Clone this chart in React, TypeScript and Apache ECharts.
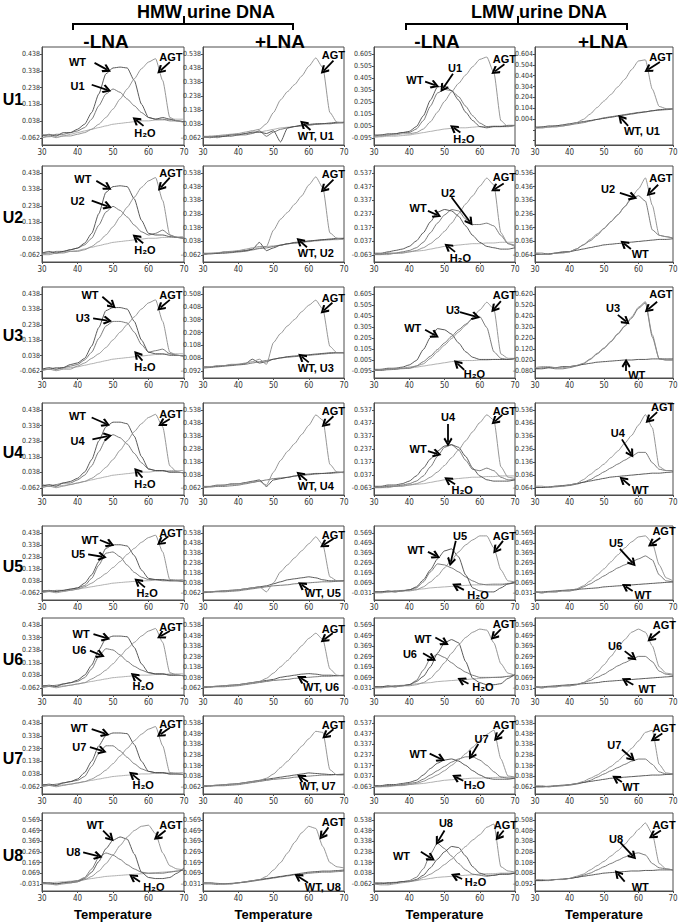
import React, { useEffect, useRef } from 'react';
import * as echarts from 'echarts';

// ---------------- shared axis values ----------------
const T = [30, 32, 34, 36, 38, 40, 42, 44, 46, 48, 50, 52, 54, 56, 58, 60, 62, 64, 66, 68, 70];
const ROW_NAMES = ['U1', 'U2', 'U3', 'U4', 'U5', 'U6', 'U7', 'U8'];
const COL_TITLES = ['-LNA', '+LNA', '-LNA', '+LNA'];
const GROUP_TITLES = ['HMW urine DNA', 'LMW urine DNA'];
const X_NAME = 'Temperature';

// y tick labels: lowest and highest label of every panel (row by row)
const Y_BASE = [
  [-0.062, -0.062, -0.095, 0.004],
  [-0.062, -0.062, -0.063, -0.064],
  [-0.062, -0.092, -0.095, -0.080],
  [-0.062, -0.062, -0.063, -0.064],
  [-0.062, -0.062, -0.031, -0.031],
  [-0.062, -0.062, -0.031, -0.031],
  [-0.062, -0.062, -0.063, -0.062],
  [-0.031, -0.031, -0.062, -0.092],
];
const Y_TOP = [
  [0.438, 0.538, 0.605, 0.604],
  [0.438, 0.538, 0.537, 0.536],
  [0.438, 0.508, 0.605, 0.620],
  [0.438, 0.538, 0.537, 0.536],
  [0.438, 0.538, 0.569, 0.569],
  [0.438, 0.538, 0.569, 0.569],
  [0.438, 0.538, 0.537, 0.538],
  [0.569, 0.569, 0.538, 0.508],
];

// ---------------- curves (values at T) ----------------
// Row U1
const r1c1_WT = [-0.05,-0.04,-0.05,-0.03,-0.03,-0.01,0.02,0.09,0.2,0.32,0.355,0.36,0.355,0.28,0.14,0.06,0.05,0.06,0.05,0.04,0.035];
const r1c1_U = [-0.04,-0.05,-0.04,-0.04,-0.03,-0.02,0.0,0.05,0.13,0.2,0.23,0.21,0.17,0.13,0.09,0.06,0.05,0.05,0.04,0.04,0.035];
const r1c1_AGT = [-0.06,-0.05,-0.06,-0.05,-0.05,-0.04,-0.03,-0.01,0.02,0.06,0.11,0.17,0.23,0.29,0.35,0.39,0.41,0.28,0.06,0.04,0.03];
const r1c1_H2O = [-0.06,-0.055,-0.05,-0.05,-0.04,-0.03,-0.02,-0.01,0.0,0.01,0.02,0.025,0.03,0.035,0.04,0.04,0.045,0.045,0.05,0.05,0.05];
const r1c2_AGT = [-0.05,-0.05,-0.045,-0.04,-0.035,-0.03,-0.02,-0.01,0.0,0.04,0.12,0.21,0.27,0.32,0.38,0.45,0.51,0.44,0.12,0.05,0.045];
const r1c2_WT = [-0.05,-0.06,-0.05,-0.05,-0.04,-0.04,-0.03,-0.02,-0.02,-0.03,-0.01,-0.09,0.01,0.02,0.03,0.035,0.04,0.04,0.045,0.05,0.05];
const r1c2_U = [-0.06,-0.05,-0.06,-0.05,-0.05,-0.04,-0.04,-0.03,-0.01,-0.05,-0.02,0.0,0.01,0.02,0.025,0.03,0.035,0.04,0.04,0.045,0.05];
const r1c2_H2O = [-0.055,-0.05,-0.05,-0.045,-0.04,-0.035,-0.03,-0.025,-0.02,-0.01,0.0,0.01,0.015,0.02,0.025,0.03,0.035,0.04,0.04,0.045,0.045];
const r1c3_WT = [-0.07,-0.07,-0.06,-0.06,-0.05,-0.04,0.0,0.09,0.22,0.33,0.34,0.3,0.22,0.12,0.05,0.0,-0.01,0.0,0.0,0.0,0.01];
const r1c3_U = [-0.08,-0.07,-0.07,-0.06,-0.05,-0.05,-0.02,0.05,0.17,0.28,0.31,0.3,0.25,0.17,0.09,0.03,0.0,0.0,0.0,0.01,0.01];
const r1c3_AGT = [-0.08,-0.08,-0.07,-0.07,-0.06,-0.06,-0.05,-0.02,0.04,0.12,0.21,0.29,0.36,0.43,0.5,0.56,0.58,0.45,0.05,0.0,0.01];
const r1c3_H2O = [-0.09,-0.085,-0.08,-0.08,-0.075,-0.07,-0.06,-0.05,-0.04,-0.03,-0.02,-0.015,-0.01,-0.01,-0.005,0.0,0.0,0.005,0.005,0.01,0.01];
const r1c4_AGT = [-0.08,-0.08,-0.07,-0.07,-0.06,-0.05,-0.03,0.0,0.05,0.11,0.17,0.23,0.3,0.37,0.46,0.54,0.55,0.28,0.12,0.1,0.1];
const r1c4_WT = [-0.07,-0.07,-0.06,-0.06,-0.05,-0.04,-0.03,-0.02,-0.01,0.0,0.01,0.02,0.03,0.04,0.05,0.06,0.07,0.08,0.09,0.095,0.1];
const r1c4_U = [-0.08,-0.07,-0.07,-0.06,-0.06,-0.05,-0.04,-0.03,-0.015,0.0,0.015,0.025,0.035,0.045,0.055,0.065,0.07,0.08,0.085,0.09,0.095];
// Row U2
const r2c1_WT = [-0.05,-0.04,-0.05,-0.04,-0.03,-0.02,0.01,0.07,0.19,0.32,0.355,0.36,0.355,0.28,0.15,0.07,0.06,0.06,0.05,0.045,0.04];
const r2c1_U = [-0.05,-0.05,-0.04,-0.04,-0.03,-0.02,0.0,0.04,0.12,0.2,0.235,0.21,0.17,0.12,0.08,0.06,0.07,0.09,0.06,0.045,0.04];
const r2c1_AGT = [-0.06,-0.06,-0.05,-0.05,-0.04,-0.04,-0.03,-0.01,0.02,0.06,0.11,0.17,0.23,0.29,0.35,0.39,0.41,0.27,0.06,0.045,0.04];
const r2c1_H2O = [-0.055,-0.05,-0.05,-0.045,-0.04,-0.035,-0.025,-0.015,-0.005,0.005,0.015,0.02,0.025,0.03,0.035,0.04,0.04,0.045,0.045,0.05,0.05];
const r2c2_AGT = [-0.05,-0.05,-0.045,-0.04,-0.035,-0.03,-0.02,-0.01,0.0,0.0,0.12,0.2,0.25,0.31,0.37,0.45,0.51,0.43,0.1,0.06,0.05];
const r2c2_WT = [-0.05,-0.05,-0.05,-0.04,-0.04,-0.035,-0.03,-0.02,0.03,-0.03,-0.01,0.01,0.02,0.03,0.035,0.04,0.045,0.05,0.055,0.06,0.06];
const r2c2_U = [-0.06,-0.055,-0.05,-0.05,-0.045,-0.04,-0.035,-0.025,-0.015,-0.01,0.0,0.01,0.02,0.025,0.03,0.04,0.045,0.05,0.05,0.055,0.06];
const r2c2_H2O = [-0.055,-0.05,-0.05,-0.045,-0.04,-0.035,-0.03,-0.02,-0.01,0.0,0.005,0.01,0.02,0.025,0.03,0.035,0.04,0.045,0.05,0.05,0.055];
const r2c3_WT = [-0.05,-0.05,-0.04,-0.03,-0.02,0.0,0.04,0.1,0.18,0.25,0.27,0.26,0.22,0.15,0.08,0.03,0.0,-0.01,-0.02,-0.02,-0.01];
const r2c3_U = [-0.06,-0.06,-0.05,-0.05,-0.04,-0.03,-0.01,0.03,0.1,0.17,0.23,0.27,0.26,0.2,0.16,0.16,0.17,0.15,0.08,0.02,0.0];
const r2c3_AGT = [-0.06,-0.06,-0.06,-0.05,-0.05,-0.04,-0.03,-0.01,0.02,0.06,0.11,0.17,0.24,0.31,0.37,0.44,0.5,0.45,0.1,0.02,0.01];
const r2c3_H2O = [-0.06,-0.055,-0.05,-0.05,-0.045,-0.04,-0.035,-0.03,-0.02,-0.01,0.0,0.005,0.01,0.015,0.02,0.02,0.025,0.025,0.03,0.03,0.03];
const r2c4_AGT = [-0.05,-0.06,-0.06,-0.05,-0.05,-0.04,-0.02,0.01,0.05,0.09,0.13,0.18,0.23,0.29,0.36,0.42,0.5,0.3,0.08,0.07,0.06];
const r2c4_U = [-0.05,-0.05,-0.06,-0.05,-0.04,-0.04,-0.02,0.01,0.04,0.08,0.13,0.18,0.23,0.29,0.35,0.37,0.33,0.12,0.08,0.07,0.06];
const r2c4_WT = [-0.06,-0.06,-0.055,-0.05,-0.045,-0.04,-0.03,-0.02,-0.01,0.0,0.01,0.015,0.02,0.025,0.03,0.035,0.04,0.045,0.05,0.05,0.055];
// Row U3
const r3c1_WT = [-0.05,-0.04,-0.05,-0.04,-0.02,-0.01,0.02,0.1,0.22,0.33,0.35,0.35,0.34,0.26,0.14,0.06,0.05,0.05,0.04,0.04,0.035];
const r3c1_U = [-0.05,-0.05,-0.04,-0.04,-0.03,-0.02,0.01,0.06,0.15,0.23,0.26,0.26,0.25,0.19,0.11,0.06,0.07,0.08,0.05,0.04,0.035];
const r3c1_AGT = [-0.06,-0.05,-0.06,-0.05,-0.05,-0.03,-0.01,0.02,0.05,0.09,0.14,0.19,0.24,0.29,0.34,0.38,0.4,0.26,0.06,0.04,0.035];
const r3c1_H2O = [-0.055,-0.05,-0.05,-0.045,-0.04,-0.035,-0.025,-0.015,-0.005,0.005,0.015,0.02,0.025,0.03,0.035,0.04,0.045,0.045,0.05,0.05,0.05];
const r3c2_AGT = [-0.06,-0.06,-0.05,-0.05,-0.04,-0.04,-0.03,-0.02,0.0,-0.04,0.13,0.2,0.26,0.31,0.37,0.42,0.46,0.39,0.1,0.05,0.05];
const r3c2_WT = [-0.06,-0.06,-0.055,-0.05,-0.045,-0.04,-0.035,0.0,-0.03,-0.02,0.0,0.01,0.02,0.025,0.03,0.035,0.04,0.045,0.05,0.05,0.05];
const r3c2_U = [-0.07,-0.065,-0.06,-0.055,-0.05,-0.045,-0.04,-0.03,-0.02,-0.01,0.0,0.01,0.015,0.02,0.025,0.03,0.035,0.04,0.045,0.05,0.05];
const r3c3_WT = [-0.08,-0.08,-0.07,-0.07,-0.06,-0.04,0.0,0.1,0.21,0.29,0.28,0.24,0.16,0.08,0.03,0.01,0.01,0.01,0.01,0.01,0.02];
const r3c3_U = [-0.09,-0.09,-0.08,-0.08,-0.07,-0.07,-0.05,-0.01,0.04,0.1,0.16,0.22,0.28,0.33,0.38,0.4,0.3,0.08,0.02,0.01,0.02];
const r3c3_AGT = [-0.09,-0.08,-0.08,-0.07,-0.07,-0.06,-0.05,-0.03,0.02,0.08,0.14,0.2,0.26,0.32,0.39,0.46,0.53,0.47,0.06,0.02,0.02];
const r3c3_H2O = [-0.09,-0.09,-0.085,-0.08,-0.075,-0.07,-0.06,-0.05,-0.04,-0.03,-0.02,-0.01,0.0,0.0,0.0,0.005,0.005,0.01,0.01,0.01,0.01];
const r3c4_AGT = [-0.05,-0.04,-0.04,-0.05,-0.05,-0.04,-0.03,-0.01,0.03,0.08,0.13,0.19,0.26,0.33,0.41,0.5,0.55,0.25,0.03,0.02,0.02];
const r3c4_U = [-0.06,-0.05,-0.05,-0.06,-0.06,-0.05,-0.035,-0.015,0.025,0.075,0.125,0.185,0.255,0.325,0.4,0.49,0.54,0.23,0.03,0.02,0.02];
const r3c4_WT = [-0.06,-0.06,-0.05,-0.05,-0.04,-0.04,-0.03,-0.02,-0.01,0.0,0.005,0.01,0.015,0.02,0.02,0.025,0.025,0.03,0.03,0.03,0.03];
// Row U4
const r4c1_WT = [-0.05,-0.04,-0.05,-0.03,-0.02,0.0,0.04,0.12,0.24,0.33,0.36,0.36,0.35,0.27,0.14,0.06,0.05,0.05,0.04,0.04,0.035];
const r4c1_U = [-0.04,-0.05,-0.04,-0.03,-0.03,-0.01,0.02,0.08,0.17,0.25,0.28,0.26,0.22,0.16,0.1,0.06,0.05,0.05,0.04,0.04,0.035];
const r4c1_AGT = [-0.06,-0.05,-0.06,-0.05,-0.04,-0.03,-0.02,0.0,0.03,0.07,0.12,0.18,0.24,0.3,0.35,0.39,0.41,0.33,0.08,0.04,0.035];
const r4c1_H2O = [-0.055,-0.05,-0.05,-0.045,-0.04,-0.03,-0.02,-0.01,0.0,0.01,0.02,0.025,0.03,0.035,0.04,0.04,0.045,0.045,0.05,0.05,0.05];
const r4c2_AGT = [-0.05,-0.05,-0.045,-0.04,-0.035,-0.03,-0.025,-0.015,-0.01,-0.04,0.06,0.15,0.22,0.28,0.35,0.42,0.5,0.46,0.12,0.06,0.055];
const r4c2_WT = [-0.05,-0.05,-0.04,-0.04,-0.03,-0.03,-0.02,-0.01,0.0,-0.05,0.0,0.01,0.02,0.03,0.04,0.045,0.05,0.05,0.055,0.06,0.06];
const r4c2_U = [-0.06,-0.055,-0.05,-0.05,-0.045,-0.04,-0.03,-0.02,-0.01,0.0,0.01,0.015,0.02,0.03,0.035,0.04,0.045,0.05,0.05,0.055,0.06];
const r4c3_WT = [-0.05,-0.05,-0.04,-0.04,-0.03,-0.01,0.03,0.09,0.16,0.22,0.26,0.27,0.25,0.18,0.09,0.03,0.0,-0.01,-0.01,-0.01,0.0];
const r4c3_U = [-0.06,-0.06,-0.05,-0.05,-0.04,-0.03,-0.01,0.03,0.1,0.18,0.25,0.27,0.23,0.15,0.08,0.07,0.09,0.07,0.02,0.0,0.0];
const r4c3_AGT = [-0.06,-0.06,-0.06,-0.05,-0.05,-0.04,-0.03,-0.01,0.02,0.06,0.11,0.17,0.23,0.3,0.37,0.44,0.5,0.46,0.1,0.02,0.01];
const r4c3_H2O = [-0.06,-0.055,-0.05,-0.05,-0.045,-0.04,-0.035,-0.03,-0.02,-0.01,0.0,0.005,0.01,0.015,0.02,0.02,0.025,0.025,0.03,0.03,0.03];
const r4c4_AGT = [-0.05,-0.05,-0.06,-0.05,-0.05,-0.04,-0.03,0.0,0.04,0.08,0.12,0.17,0.22,0.28,0.34,0.42,0.5,0.4,0.1,0.07,0.07];
const r4c4_U = [-0.06,-0.06,-0.06,-0.055,-0.05,-0.045,-0.035,-0.02,0.0,0.03,0.06,0.09,0.12,0.15,0.18,0.21,0.21,0.13,0.08,0.07,0.07];
const r4c4_WT = [-0.06,-0.06,-0.055,-0.05,-0.045,-0.04,-0.03,-0.02,-0.01,0.0,0.01,0.02,0.025,0.03,0.035,0.04,0.045,0.05,0.05,0.055,0.06];
// Row U5
const r5c1_WT = [-0.05,-0.04,-0.05,-0.04,-0.03,-0.02,0.02,0.09,0.2,0.31,0.34,0.34,0.33,0.25,0.13,0.06,0.05,0.05,0.04,0.04,0.035];
const r5c1_U = [-0.04,-0.05,-0.04,-0.04,-0.03,-0.02,0.0,0.06,0.17,0.27,0.28,0.24,0.17,0.11,0.07,0.05,0.05,0.04,0.04,0.04,0.035];
const r5c1_AGT = [-0.06,-0.05,-0.06,-0.05,-0.04,-0.03,-0.01,0.02,0.06,0.1,0.15,0.2,0.26,0.31,0.36,0.4,0.42,0.28,0.05,0.04,0.035];
const r5c1_H2O = [-0.055,-0.05,-0.05,-0.045,-0.04,-0.03,-0.02,-0.01,0.0,0.01,0.02,0.025,0.03,0.035,0.04,0.04,0.045,0.045,0.05,0.05,0.05];
const r5c2_AGT = [-0.05,-0.05,-0.045,-0.04,-0.035,-0.03,-0.02,-0.01,0.0,-0.05,0.04,0.15,0.22,0.29,0.36,0.43,0.5,0.42,0.1,0.06,0.055];
const r5c2_WT = [-0.05,-0.05,-0.045,-0.04,-0.035,-0.03,-0.02,-0.01,0.0,0.01,0.03,0.05,0.07,0.08,0.09,0.1,0.09,0.07,0.06,0.06,0.06];
const r5c2_U = [-0.06,-0.055,-0.05,-0.05,-0.045,-0.04,-0.03,-0.02,-0.01,0.0,0.01,0.015,0.02,0.03,0.035,0.04,0.045,0.05,0.05,0.055,0.06];
const r5c3_WT = [-0.02,-0.02,-0.01,-0.02,-0.01,0.0,0.03,0.1,0.2,0.31,0.39,0.41,0.33,0.15,0.02,-0.01,-0.02,-0.02,0.02,0.06,0.08];
const r5c3_U = [-0.02,-0.02,-0.02,-0.01,-0.01,0.0,0.02,0.08,0.18,0.26,0.25,0.22,0.18,0.13,0.09,0.06,0.05,0.05,0.05,0.06,0.07];
const r5c3_AGT = [-0.03,-0.03,-0.02,-0.02,-0.01,-0.01,0.0,0.03,0.08,0.14,0.22,0.3,0.38,0.45,0.5,0.54,0.54,0.42,0.2,0.09,0.08];
const r5c3_H2O = [-0.02,-0.02,-0.015,-0.01,-0.005,0.0,0.005,0.01,0.02,0.025,0.03,0.035,0.04,0.045,0.05,0.05,0.055,0.06,0.06,0.065,0.07];
const r5c4_AGT = [-0.02,-0.03,-0.02,-0.02,-0.01,-0.01,0.01,0.04,0.09,0.15,0.21,0.28,0.35,0.42,0.48,0.53,0.54,0.47,0.25,0.12,0.09];
const r5c4_U = [-0.02,-0.03,-0.02,-0.02,-0.01,-0.01,0.0,0.03,0.06,0.1,0.14,0.18,0.22,0.25,0.28,0.31,0.34,0.3,0.15,0.09,0.08];
const r5c4_WT = [-0.02,-0.02,-0.015,-0.01,-0.005,0.0,0.005,0.01,0.015,0.02,0.03,0.035,0.04,0.045,0.05,0.055,0.06,0.065,0.07,0.075,0.08];
// Row U6
const r6c1_WT = [-0.05,-0.04,-0.05,-0.03,-0.02,0.0,0.04,0.12,0.24,0.33,0.35,0.35,0.345,0.26,0.13,0.06,0.05,0.05,0.04,0.04,0.035];
const r6c1_U = [-0.04,-0.05,-0.04,-0.03,-0.02,-0.01,0.02,0.09,0.19,0.25,0.24,0.2,0.15,0.11,0.08,0.06,0.05,0.05,0.04,0.04,0.035];
const r6c1_AGT = [-0.06,-0.05,-0.06,-0.05,-0.04,-0.03,-0.02,0.01,0.04,0.08,0.13,0.19,0.25,0.3,0.35,0.39,0.41,0.3,0.06,0.04,0.035];
const r6c1_H2O = [-0.055,-0.05,-0.05,-0.045,-0.04,-0.03,-0.02,-0.01,0.0,0.01,0.02,0.025,0.03,0.035,0.04,0.04,0.045,0.045,0.05,0.05,0.05];
const r6c2_AGT = [-0.05,-0.05,-0.045,-0.04,-0.035,-0.03,-0.02,-0.01,0.0,0.03,0.08,0.14,0.2,0.27,0.34,0.41,0.46,0.4,0.12,0.06,0.05];
const r6c2_WT = [-0.05,-0.05,-0.045,-0.04,-0.035,-0.03,-0.02,-0.01,0.0,0.01,0.02,0.04,0.05,0.06,0.07,0.075,0.07,0.06,0.06,0.055,0.055];
const r6c2_U = [-0.06,-0.055,-0.05,-0.05,-0.045,-0.04,-0.03,-0.02,-0.01,0.0,0.01,0.015,0.02,0.03,0.035,0.04,0.045,0.05,0.05,0.055,0.06];
const r6c3_WT = [-0.02,-0.02,-0.01,-0.02,-0.01,0.0,0.03,0.08,0.17,0.3,0.4,0.43,0.4,0.22,0.06,0.02,0.0,0.0,0.01,0.06,0.1];
const r6c3_U = [-0.02,-0.02,-0.02,-0.01,-0.01,0.0,0.04,0.14,0.25,0.29,0.26,0.21,0.16,0.12,0.09,0.07,0.07,0.07,0.07,0.08,0.09];
const r6c3_AGT = [-0.03,-0.03,-0.02,-0.02,-0.01,-0.01,0.0,0.02,0.06,0.13,0.21,0.3,0.38,0.45,0.5,0.53,0.52,0.4,0.2,0.11,0.09];
const r6c3_H2O = [-0.02,-0.02,-0.015,-0.01,-0.005,0.0,0.01,0.015,0.02,0.03,0.035,0.04,0.045,0.05,0.055,0.06,0.065,0.07,0.075,0.08,0.09];
const r6c4_AGT = [-0.02,-0.03,-0.02,-0.02,-0.01,-0.01,0.0,0.02,0.06,0.12,0.19,0.27,0.35,0.43,0.5,0.53,0.5,0.37,0.17,0.11,0.1];
const r6c4_U = [-0.02,-0.03,-0.02,-0.02,-0.01,-0.01,0.0,0.02,0.04,0.07,0.1,0.14,0.18,0.21,0.24,0.27,0.27,0.22,0.13,0.1,0.09];
const r6c4_WT = [-0.02,-0.02,-0.015,-0.01,-0.005,0.0,0.005,0.01,0.015,0.02,0.03,0.035,0.04,0.045,0.05,0.055,0.06,0.065,0.07,0.075,0.08];
// Row U7
const r7c1_WT = [-0.05,-0.04,-0.05,-0.03,-0.02,0.0,0.05,0.14,0.26,0.34,0.36,0.36,0.355,0.27,0.14,0.06,0.05,0.05,0.04,0.04,0.035];
const r7c1_U = [-0.04,-0.05,-0.04,-0.03,-0.02,-0.01,0.02,0.1,0.2,0.26,0.26,0.22,0.17,0.12,0.08,0.06,0.05,0.05,0.04,0.04,0.035];
const r7c1_AGT = [-0.06,-0.05,-0.06,-0.05,-0.04,-0.03,-0.02,0.0,0.03,0.07,0.12,0.18,0.24,0.3,0.35,0.39,0.41,0.26,0.05,0.04,0.035];
const r7c1_H2O = [-0.055,-0.05,-0.05,-0.045,-0.04,-0.03,-0.02,-0.01,0.0,0.01,0.02,0.025,0.03,0.035,0.04,0.04,0.045,0.045,0.05,0.05,0.05];
const r7c2_AGT = [-0.05,-0.05,-0.045,-0.04,-0.035,-0.03,-0.02,-0.01,0.0,0.02,0.06,0.12,0.18,0.25,0.32,0.39,0.46,0.45,0.1,0.05,0.05];
const r7c2_WT = [-0.05,-0.05,-0.045,-0.04,-0.035,-0.03,-0.02,-0.01,0.0,0.01,0.02,0.03,0.04,0.05,0.06,0.07,0.065,0.06,0.055,0.055,0.055];
const r7c2_U = [-0.06,-0.055,-0.05,-0.05,-0.045,-0.04,-0.03,-0.02,-0.01,0.0,0.01,0.015,0.02,0.03,0.035,0.04,0.045,0.05,0.05,0.055,0.06];
const r7c3_WT = [-0.05,-0.05,-0.04,-0.04,-0.03,-0.02,0.0,0.05,0.11,0.16,0.19,0.2,0.18,0.14,0.09,0.05,0.02,0.01,0.01,0.01,0.02];
const r7c3_U = [-0.06,-0.06,-0.05,-0.05,-0.04,-0.03,-0.02,0.01,0.05,0.09,0.13,0.17,0.2,0.22,0.22,0.19,0.14,0.08,0.03,0.02,0.02];
const r7c3_AGT = [-0.06,-0.06,-0.06,-0.05,-0.05,-0.04,-0.03,-0.01,0.02,0.05,0.09,0.14,0.19,0.25,0.31,0.37,0.43,0.47,0.2,0.04,0.03];
const r7c3_H2O = [-0.06,-0.055,-0.05,-0.05,-0.045,-0.04,-0.035,-0.03,-0.02,-0.01,0.0,0.005,0.01,0.015,0.02,0.02,0.025,0.025,0.03,0.03,0.03];
const r7c4_AGT = [-0.05,-0.05,-0.06,-0.05,-0.05,-0.04,-0.03,-0.01,0.02,0.05,0.09,0.13,0.18,0.24,0.3,0.37,0.45,0.47,0.15,0.07,0.06];
const r7c4_U = [-0.06,-0.06,-0.06,-0.055,-0.05,-0.045,-0.035,-0.02,0.0,0.03,0.06,0.09,0.12,0.15,0.18,0.2,0.2,0.15,0.08,0.06,0.06];
const r7c4_WT = [-0.06,-0.06,-0.055,-0.05,-0.045,-0.04,-0.03,-0.02,-0.01,0.0,0.01,0.02,0.025,0.03,0.035,0.04,0.045,0.05,0.05,0.055,0.06];
// Row U8
const r8c1_WT = [-0.02,-0.02,-0.03,-0.02,-0.02,-0.01,0.02,0.08,0.18,0.3,0.38,0.41,0.39,0.25,0.08,0.03,0.02,0.02,0.03,0.07,0.12];
const r8c1_U = [-0.02,-0.03,-0.03,-0.02,-0.01,0.0,0.03,0.11,0.22,0.26,0.24,0.2,0.15,0.11,0.08,0.07,0.07,0.07,0.08,0.09,0.1];
const r8c1_AGT = [-0.03,-0.03,-0.04,-0.03,-0.02,-0.01,0.01,0.04,0.09,0.16,0.24,0.33,0.41,0.47,0.51,0.52,0.44,0.26,0.14,0.11,0.1];
const r8c1_H2O = [-0.02,-0.02,-0.015,-0.01,-0.005,0.0,0.01,0.02,0.03,0.04,0.045,0.05,0.055,0.06,0.065,0.07,0.075,0.08,0.085,0.09,0.1];
const r8c2_AGT = [-0.02,-0.02,-0.03,-0.03,-0.03,-0.02,-0.01,0.0,0.01,0.04,0.1,0.17,0.26,0.36,0.45,0.51,0.49,0.32,0.17,0.13,0.12];
const r8c2_WT = [-0.02,-0.02,-0.025,-0.03,-0.025,-0.02,-0.01,0.0,0.01,0.02,0.03,0.04,0.05,0.06,0.07,0.08,0.085,0.09,0.09,0.095,0.1];
const r8c2_U = [-0.03,-0.03,-0.035,-0.03,-0.03,-0.02,-0.015,-0.005,0.005,0.015,0.025,0.035,0.045,0.055,0.06,0.07,0.075,0.08,0.08,0.085,0.09];
const r8c3_U = [-0.05,-0.05,-0.06,-0.05,-0.04,-0.03,0.0,0.08,0.22,0.32,0.27,0.2,0.13,0.07,0.03,0.02,0.01,0.02,0.03,0.03,0.04];
const r8c3_WT = [-0.06,-0.06,-0.05,-0.05,-0.04,-0.04,-0.02,0.02,0.09,0.17,0.24,0.29,0.28,0.2,0.1,0.04,0.02,0.02,0.03,0.03,0.04];
const r8c3_AGT = [-0.06,-0.07,-0.07,-0.06,-0.05,-0.04,-0.03,0.0,0.03,0.07,0.12,0.17,0.23,0.29,0.35,0.4,0.47,0.5,0.1,0.06,0.05];
const r8c3_H2O = [-0.06,-0.055,-0.05,-0.045,-0.04,-0.035,-0.03,-0.02,-0.01,0.0,0.005,0.01,0.015,0.02,0.025,0.03,0.035,0.035,0.04,0.04,0.045];
const r8c4_AGT = [-0.05,-0.05,-0.06,-0.05,-0.05,-0.04,-0.02,0.0,0.04,0.08,0.12,0.17,0.22,0.28,0.35,0.42,0.48,0.38,0.1,0.05,0.04];
const r8c4_U = [-0.06,-0.06,-0.06,-0.05,-0.05,-0.04,-0.03,-0.01,0.01,0.04,0.07,0.1,0.13,0.16,0.19,0.2,0.18,0.1,0.06,0.05,0.04];
const r8c4_WT = [-0.06,-0.06,-0.055,-0.05,-0.045,-0.04,-0.03,-0.02,-0.01,0.0,0.01,0.015,0.02,0.025,0.03,0.03,0.035,0.035,0.04,0.04,0.04];

// ---------------- annotations: [text, textT, textY, arrowFromT, arrowFromY, arrowToT, arrowToY] ----------------
const N = {
  r1c1: [['WT',40,0.39,44.8,0.385,48.3,0.345],['U1',40,0.25,44,0.255,48.3,0.225],['AGT',66.3,0.42,66,0.39,63.4,0.34],['H₂O',59,-0.03,58.6,0.01,56.5,0.045]],
  r1c2: [['AGT',67,0.53,67,0.49,64.3,0.42],['WT, U1',62,-0.05,60.5,-0.005,58.5,0.04]],
  r1c3: [['WT',41.6,0.39,44.5,0.375,47.3,0.345],['U1',53,0.49,52.4,0.44,49.6,0.32],['AGT',67,0.56,67,0.52,64.3,0.46],['H₂O',55.5,-0.1,54.5,-0.05,52.6,-0.01]],
  r1c4: [['AGT',66.5,0.58,66.2,0.53,62.8,0.46],['WT, U1',61,-0.11,57,-0.06,55,0.01]],
  r2c1: [['WT',41.5,0.4,45.3,0.39,48.5,0.35],['U2',40,0.27,44,0.27,48.5,0.235],['AGT',66.3,0.44,66,0.41,63.5,0.35],['H₂O',59,-0.03,58.5,0.01,56.5,0.045]],
  r2c2: [['AGT',67,0.53,67,0.49,64.3,0.42],['WT, U2',62,-0.05,59.5,-0.005,57.5,0.04]],
  r2c3: [['WT',42.5,0.28,45.3,0.26,47.9,0.23],['U2',51,0.39,52,0.36,57.2,0.18],['AGT',67,0.51,66.8,0.46,64.3,0.42],['H₂O',54.5,-0.085,53,-0.04,51,0.0]],
  r2c4: [['U2',51.2,0.42,54.6,0.39,58.4,0.36],['AGT',66.5,0.5,65.7,0.45,63.3,0.39],['WT',60.5,-0.055,57.8,-0.02,55.8,0.02]],
  r3c1: [['WT',43.5,0.43,47,0.42,49.8,0.365],['U3',41.5,0.28,44.4,0.28,48.5,0.265],['AGT',66.3,0.43,66,0.4,63.4,0.35],['H₂O',59,-0.035,58.3,0.005,56.8,0.045]],
  r3c2: [['AGT',67,0.48,66.7,0.44,64.3,0.38],['WT, U3',62,-0.07,60,-0.025,58,0.02]],
  r3c3: [['WT',41,0.3,44.5,0.28,47.3,0.23],['U3',52.4,0.46,54.4,0.44,58.9,0.4],['AGT',67,0.6,66,0.54,64.1,0.47],['H₂O',58.5,-0.12,55.6,-0.085,53.6,-0.025]],
  r3c4: [['U3',52.6,0.49,54,0.43,56.4,0.37],['AGT',66.5,0.62,65.4,0.55,62.8,0.48],['WT',59.5,-0.12,56.4,-0.08,56.4,-0.01]],
  r4c1: [['WT',40,0.4,44,0.39,48,0.35],['U4',40,0.24,44.2,0.25,48.5,0.27],['AGT',66.3,0.41,66,0.38,63.8,0.35],['H₂O',59,-0.035,58.3,0.005,56.8,0.045]],
  r4c2: [['AGT',67,0.53,67,0.49,64.6,0.43],['WT, U4',62,-0.05,59.5,-0.005,57.5,0.04]],
  r4c3: [['WT',42.5,0.24,45.3,0.22,47.9,0.2],['U4',51,0.48,51,0.43,51,0.29],['AGT',67,0.53,66.4,0.5,64.3,0.45],['H₂O',55,-0.075,53,-0.035,51,0.0]],
  r4c4: [['U4',54,0.36,55.2,0.31,57.8,0.2],['AGT',67,0.56,65.4,0.52,63,0.46],['WT',60.5,-0.08,57.5,-0.045,55.5,0.0]],
  r5c1: [['WT',43.5,0.38,46.3,0.38,49.2,0.345],['U5',40.2,0.26,43,0.26,47,0.24],['AGT',66.3,0.44,65.6,0.41,63.4,0.36],['H₂O',59.6,-0.06,59,-0.015,57,0.035]],
  r5c2: [['AGT',67,0.52,67,0.48,64.3,0.42],['WT, U5',64,-0.065,60,-0.03,58,0.02]],
  r5c3: [['WT',41.9,0.4,45.3,0.38,47.6,0.34],['U5',54.4,0.54,53.2,0.49,51.8,0.28],['AGT',67,0.54,66.6,0.49,64.6,0.4],['H₂O',59.5,-0.05,55.5,0.0,53.3,0.04]],
  r5c4: [['U5',53.5,0.47,54.6,0.41,58.3,0.27],['AGT',67.4,0.59,66.3,0.52,63.8,0.46],['WT',61.3,-0.05,58.3,-0.01,56.3,0.035]],
  r6c1: [['WT',41,0.37,44.5,0.365,48,0.335],['U6',40.5,0.24,43.5,0.235,46.5,0.2],['AGT',66.3,0.42,66,0.39,63.5,0.35],['H₂O',58.5,-0.05,58,-0.01,56,0.035]],
  r6c2: [['AGT',67,0.5,66.8,0.46,64.4,0.4],['WT, U6',63.5,-0.05,59.8,-0.01,57.8,0.03]],
  r6c3: [['WT',43.9,0.44,47.4,0.45,50.1,0.4],['U6',40.2,0.29,43.9,0.3,46.5,0.25],['AGT',67,0.58,66,0.53,64,0.46],['H₂O',60.9,-0.02,56.8,0.01,54.8,0.045]],
  r6c4: [['U6',53.2,0.37,56,0.32,58.4,0.26],['AGT',67.5,0.57,66.2,0.51,63.6,0.44],['WT',62.5,-0.04,58.5,0.0,56.3,0.04]],
  r7c1: [['WT',40.5,0.4,44,0.39,47.8,0.355],['U7',40.5,0.25,43.5,0.25,47,0.22],['AGT',66.3,0.43,66,0.4,63.4,0.35],['H₂O',58.5,-0.05,57.5,-0.01,55.5,0.035]],
  r7c2: [['AGT',67,0.52,67,0.48,64.8,0.42],['WT, U7',62.5,-0.05,59.8,-0.01,57.8,0.03]],
  r7c3: [['WT',42.5,0.25,45.8,0.25,49,0.2],['U7',60.5,0.39,59.6,0.34,57.6,0.23],['AGT',67,0.52,66.8,0.47,64.9,0.4],['H₂O',58.5,-0.04,55.3,-0.005,53.3,0.03]],
  r7c4: [['U7',53,0.33,55.2,0.29,58,0.21],['AGT',67.4,0.49,66.9,0.44,64.6,0.39],['WT',57.8,-0.06,55.2,-0.015,53.5,0.02]],
  r8c1: [['WT',45,0.52,47.2,0.47,49.3,0.4],['U8',38.8,0.27,41.6,0.265,45.8,0.23],['AGT',66.3,0.52,64.8,0.47,62.5,0.41],['H₂O',61.5,-0.06,57.6,-0.01,55.6,0.035]],
  r8c2: [['AGT',67,0.55,65.6,0.5,63.8,0.42],['WT, U8',64,-0.06,59.8,-0.02,57,0.04]],
  r8c3: [['U8',50.4,0.51,50,0.44,48.2,0.34],['WT',37.8,0.2,43.3,0.24,46.2,0.18],['AGT',67.3,0.49,66.8,0.44,65.3,0.38],['H₂O',58.8,-0.04,55,-0.015,53,0.015]],
  r8c4: [['U8',53.5,0.33,54.6,0.3,58.4,0.17],['AGT',67.4,0.46,66.5,0.41,64.1,0.36],['WT',60.5,-0.12,56,-0.07,54,0.005]],
};

const PANELS = [
  { c: { WT: r1c1_WT, U: r1c1_U, AGT: r1c1_AGT, H2O: r1c1_H2O }, n: N.r1c1 },
  { c: { WT: r1c2_WT, U: r1c2_U, AGT: r1c2_AGT, H2O: r1c2_H2O }, n: N.r1c2 },
  { c: { WT: r1c3_WT, U: r1c3_U, AGT: r1c3_AGT, H2O: r1c3_H2O }, n: N.r1c3 },
  { c: { WT: r1c4_WT, U: r1c4_U, AGT: r1c4_AGT }, n: N.r1c4 },
  { c: { WT: r2c1_WT, U: r2c1_U, AGT: r2c1_AGT, H2O: r2c1_H2O }, n: N.r2c1 },
  { c: { WT: r2c2_WT, U: r2c2_U, AGT: r2c2_AGT, H2O: r2c2_H2O }, n: N.r2c2 },
  { c: { WT: r2c3_WT, U: r2c3_U, AGT: r2c3_AGT, H2O: r2c3_H2O }, n: N.r2c3 },
  { c: { WT: r2c4_WT, U: r2c4_U, AGT: r2c4_AGT }, n: N.r2c4 },
  { c: { WT: r3c1_WT, U: r3c1_U, AGT: r3c1_AGT, H2O: r3c1_H2O }, n: N.r3c1 },
  { c: { WT: r3c2_WT, U: r3c2_U, AGT: r3c2_AGT }, n: N.r3c2 },
  { c: { WT: r3c3_WT, U: r3c3_U, AGT: r3c3_AGT, H2O: r3c3_H2O }, n: N.r3c3 },
  { c: { WT: r3c4_WT, U: r3c4_U, AGT: r3c4_AGT }, n: N.r3c4 },
  { c: { WT: r4c1_WT, U: r4c1_U, AGT: r4c1_AGT, H2O: r4c1_H2O }, n: N.r4c1 },
  { c: { WT: r4c2_WT, U: r4c2_U, AGT: r4c2_AGT }, n: N.r4c2 },
  { c: { WT: r4c3_WT, U: r4c3_U, AGT: r4c3_AGT, H2O: r4c3_H2O }, n: N.r4c3 },
  { c: { WT: r4c4_WT, U: r4c4_U, AGT: r4c4_AGT }, n: N.r4c4 },
  { c: { WT: r5c1_WT, U: r5c1_U, AGT: r5c1_AGT, H2O: r5c1_H2O }, n: N.r5c1 },
  { c: { WT: r5c2_WT, U: r5c2_U, AGT: r5c2_AGT }, n: N.r5c2 },
  { c: { WT: r5c3_WT, U: r5c3_U, AGT: r5c3_AGT, H2O: r5c3_H2O }, n: N.r5c3 },
  { c: { WT: r5c4_WT, U: r5c4_U, AGT: r5c4_AGT }, n: N.r5c4 },
  { c: { WT: r6c1_WT, U: r6c1_U, AGT: r6c1_AGT, H2O: r6c1_H2O }, n: N.r6c1 },
  { c: { WT: r6c2_WT, U: r6c2_U, AGT: r6c2_AGT }, n: N.r6c2 },
  { c: { WT: r6c3_WT, U: r6c3_U, AGT: r6c3_AGT, H2O: r6c3_H2O }, n: N.r6c3 },
  { c: { WT: r6c4_WT, U: r6c4_U, AGT: r6c4_AGT }, n: N.r6c4 },
  { c: { WT: r7c1_WT, U: r7c1_U, AGT: r7c1_AGT, H2O: r7c1_H2O }, n: N.r7c1 },
  { c: { WT: r7c2_WT, U: r7c2_U, AGT: r7c2_AGT }, n: N.r7c2 },
  { c: { WT: r7c3_WT, U: r7c3_U, AGT: r7c3_AGT, H2O: r7c3_H2O }, n: N.r7c3 },
  { c: { WT: r7c4_WT, U: r7c4_U, AGT: r7c4_AGT }, n: N.r7c4 },
  { c: { WT: r8c1_WT, U: r8c1_U, AGT: r8c1_AGT, H2O: r8c1_H2O }, n: N.r8c1 },
  { c: { WT: r8c2_WT, U: r8c2_U, AGT: r8c2_AGT }, n: N.r8c2 },
  { c: { WT: r8c3_WT, U: r8c3_U, AGT: r8c3_AGT, H2O: r8c3_H2O }, n: N.r8c3 },
  { c: { WT: r8c4_WT, U: r8c4_U, AGT: r8c4_AGT }, n: N.r8c4 },
];

// ---------------- layout & style ----------------
const ROW_BOX = [[47, 145], [166, 262], [287, 378], [403, 495], [526, 600], [618, 695], [716, 794], [813, 891]];
const COL_BOX = [[42, 184], [203, 344], [374, 515], [535, 673]];
const PAD_T = 7;
const PAD_B_DEFAULT = 7;
const PAD_B_SPECIAL: Record<string, number> = { '0-3': 26 };
const CURVE_ORDER = ['H2O', 'U', 'WT', 'AGT'];
const CURVE_COLOR: Record<string, string> = { H2O: '#a8a8a8', U: '#6c6c6c', WT: '#474747', AGT: '#8a8a8a' };
const SANS = "'Liberation Sans', Arial, Helvetica, sans-serif";
const NARROW = "'Liberation Sans Narrow', 'DejaVu Sans Condensed', 'Liberation Sans', sans-serif";
const CHEVRON = 'path://M5,0 L10,7 L8.3,8.4 L5,3.6 L1.7,8.4 L0,7 Z';

function buildOption() {
  const grid: any[] = [];
  const xAxis: any[] = [];
  const yAxis: any[] = [];
  const series: any[] = [];

  PANELS.forEach((p, i) => {
    const r = Math.floor(i / 4);
    const c = i % 4;
    const [top, bottom] = ROW_BOX[r];
    const [left, right] = COL_BOX[c];
    const h = bottom - top;
    const base = Y_BASE[r][c];
    const span = Y_TOP[r][c] - base;
    const padB = PAD_B_SPECIAL[`${r}-${c}`] ?? PAD_B_DEFAULT;
    const ppu = (h - PAD_T - padB) / span;
    const ymin = -padB / ppu;
    const ymax = span + PAD_T / ppu;
    const nSteps = Math.round(span / 0.1);

    grid.push({
      left, top, width: right - left, height: h,
      show: true, borderColor: '#4d4d4d', borderWidth: 1, backgroundColor: '#fff',
      containLabel: false, outerBoundsMode: 'none',
    });
    xAxis.push({
      gridIndex: i, type: 'value', min: 30, max: 70, interval: 10,
      axisLine: { show: true, onZero: false, lineStyle: { color: '#4d4d4d', width: 1 } },
      axisTick: { show: true, length: 2, lineStyle: { color: '#4d4d4d' } },
      axisLabel: { fontSize: 8, fontFamily: NARROW, color: '#333', margin: 3 },
      splitLine: { show: false },
      name: r === 7 ? X_NAME : '',
      nameLocation: 'middle', nameGap: 17,
      nameTextStyle: { fontSize: 13, fontWeight: 'bold', fontFamily: SANS, color: '#000' },
    });
    yAxis.push({
      gridIndex: i, type: 'value', min: ymin, max: ymax,
      minInterval: 0.1, maxInterval: 0.1, splitNumber: Math.max(1, Math.round((ymax - ymin) / 0.1)),
      axisLine: { show: true, onZero: false, lineStyle: { color: '#4d4d4d', width: 1 } },
      axisTick: { show: true, length: 2, lineStyle: { color: '#4d4d4d' } },
      axisLabel: {
        fontSize: 7, fontFamily: NARROW, color: '#333', margin: 2,
        showMinLabel: false, showMaxLabel: false,
        formatter: (v: number) => {
          const k = v / 0.1;
          const kr = Math.round(k);
          if (Math.abs(k - kr) > 0.02 || kr < 0 || kr > nSteps) return '';
          return (kr * 0.1 + base).toFixed(3);
        },
      },
      splitLine: { show: false },
    });

    CURVE_ORDER.forEach((key) => {
      const arr = (p.c as any)[key] as number[] | undefined;
      if (!arr) return;
      const color = CURVE_COLOR[key];
      series.push({
        type: 'line', name: `${ROW_NAMES[r]} ${COL_TITLES[c]} ${key}`,
        xAxisIndex: i, yAxisIndex: i,
        data: T.map((t, j) => [t, arr[j] - base]),
        showSymbol: false, symbol: 'none', smooth: 0.2, smoothMonotone: 'x',
        lineStyle: { color, width: 0.9 }, itemStyle: { color },
        silent: true, z: 2,
      });
    });

    series.push({
      type: 'line', name: `notes-${i}`, xAxisIndex: i, yAxisIndex: i,
      data: [], symbol: 'none', silent: true, clip: false, z: 5,
      markLine: {
        silent: true, animation: false,
        symbol: ['none', CHEVRON], symbolSize: [9, 9],
        lineStyle: { color: '#000', width: 1.8, type: 'solid' },
        label: { show: false }, emphasis: { disabled: true },
        data: p.n.map((n: any[]) => [
          { coord: [n[3], n[4] - base] },
          { coord: [n[5], n[6] - base] },
        ]),
      },
      markPoint: {
        silent: true, animation: false,
        symbol: 'rect', symbolSize: 1, itemStyle: { color: 'rgba(0,0,0,0)' },
        label: {
          show: true, position: 'inside', color: '#000', fontSize: 11,
          fontWeight: 'bold', fontFamily: SANS,
          formatter: (prm: any) => prm.name,
        },
        emphasis: { disabled: true },
        data: p.n.map((n: any[]) => ({ name: n[0], coord: [n[1], n[2] - base] })),
      },
    });
  });

  const graphic: any[] = [];
  const txt = (text: string, x: number, y: number, size: number, align = 'center') => ({
    type: 'text', x, y, silent: true,
    style: {
      text, fill: '#000', font: `bold ${size}px ${SANS}`,
      align, verticalAlign: 'middle', textAlign: align, textVerticalAlign: 'middle',
    },
  });
  // group headers with brackets
  graphic.push(txt(GROUP_TITLES[0], 137, 12, 18, 'left'));
  graphic.push(txt(GROUP_TITLES[1], 471, 12, 18, 'left'));
  [[73, 293, 184], [406, 627, 518]].forEach(([a, b, m]) => {
    graphic.push({ type: 'polyline', silent: true, shape: { points: [[a, 30], [a, 24], [b, 24], [b, 30]] }, style: { stroke: '#000', lineWidth: 2, fill: null } });
    graphic.push({ type: 'line', silent: true, shape: { x1: m, y1: 24, x2: m, y2: 16 }, style: { stroke: '#000', lineWidth: 2 } });
  });
  [106, 280, 437, 603].forEach((x, c) => graphic.push(txt(COL_TITLES[c], x, 41, 19)));
  ROW_BOX.forEach(([t, b], r) => graphic.push(txt(ROW_NAMES[r], 13, (t + b) / 2 + 3, 16)));

  return {
    animation: false,
    backgroundColor: '#fff',
    grid, xAxis, yAxis, series, graphic,
  };
}

export default function App() {
  const ref = useRef<HTMLDivElement>(null);
  useEffect(() => {
    if (!ref.current) return;
    const chart = echarts.init(ref.current, null, { renderer: 'svg' });
    chart.setOption(buildOption() as any);
    return () => chart.dispose();
  }, []);
  return (
    <div
      ref={ref}
      style={{ position: 'absolute', left: 0, top: 0, width: 678, height: 924, background: '#fff' }}
    />
  );
}
